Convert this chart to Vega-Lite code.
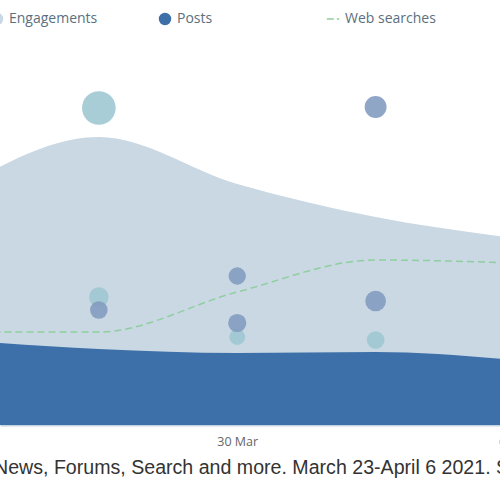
{
  "$schema": "https://vega.github.io/schema/vega-lite/v6.json",
  "width": 514,
  "height": 425,
  "autosize": "none",
  "padding": {"left": 0, "top": 0, "right": 0, "bottom": 75},
  "background": "white",
  "config": {"view": {"stroke": null}, "font": "Open Sans"},
  "title": {
    "text": "News, Forums, Search and more. March 23-April 6 2021. S",
    "orient": "bottom",
    "anchor": "start",
    "frame": "group",
    "dx": -6,
    "offset": 11,
    "font": "Liberation Sans",
    "fontSize": 19.6,
    "fontWeight": "normal",
    "color": "#333333"
  },
  "datasets": {
    "series": [
      {"date": "2021-03-23T00:00:00Z", "engagements": 2370, "posts": 850, "searches": 930},
      {"date": "2021-03-26T12:00:00Z", "engagements": 2880, "posts": 760, "searches": 930},
      {"date": "2021-03-30T00:00:00Z", "engagements": 2410, "posts": 720, "searches": 1330},
      {"date": "2021-04-02T12:00:00Z", "engagements": 2080, "posts": 730, "searches": 1650},
      {"date": "2021-04-06T00:00:00Z", "engagements": 1870, "posts": 650, "searches": 1620}
    ],
    "bubbles": [
      {"date": "2021-03-26T12:00:00Z", "series": "Engagements", "value": 3170, "size": 11.3},
      {"date": "2021-03-26T12:00:00Z", "series": "Engagements", "value": 1280, "size": 3.8},
      {"date": "2021-03-30T00:00:00Z", "series": "Engagements", "value": 880, "size": 2.5},
      {"date": "2021-04-02T12:00:00Z", "series": "Engagements", "value": 850, "size": 3.1},
      {"date": "2021-03-26T12:00:00Z", "series": "Posts", "value": 1150, "size": 3.1},
      {"date": "2021-03-30T00:00:00Z", "series": "Posts", "value": 1490, "size": 3.0},
      {"date": "2021-03-30T00:00:00Z", "series": "Posts", "value": 1020, "size": 3.3},
      {"date": "2021-04-02T12:00:00Z", "series": "Posts", "value": 3180, "size": 4.8},
      {"date": "2021-04-02T12:00:00Z", "series": "Posts", "value": 1240, "size": 4.3}
    ]
  },
  "encoding": {
    "x": {
      "field": "date",
      "type": "temporal",
      "scale": {
        "type": "utc",
        "nice": false,
        "domain": [
          {"year": 2021, "month": 3, "date": 24, "utc": true},
          {"year": 2021, "month": 4, "date": 6, "utc": true}
        ]
      },
      "axis": {
        "title": null,
        "values": [
          {"year": 2021, "month": 3, "date": 30, "utc": true},
          {"year": 2021, "month": 4, "date": 6, "utc": true}
        ],
        "labelExpr": "utcFormat(datum.value, '%-d %b')",
        "ticks": false,
        "grid": false,
        "domainColor": "#c3d4e4",
        "domainWidth": 2,
        "labelColor": "#666666",
        "labelFont": "Open Sans",
        "labelFontSize": 12.5,
        "labelPadding": 10,
        "labelFlush": false,
        "labelOverlap": false,
        "labelBound": false
      }
    }
  },
  "layer": [
    {
      "data": {"name": "series"},
      "mark": {"type": "area", "interpolate": "monotone"},
      "encoding": {
        "y": {"field": "engagements", "type": "quantitative", "scale": {"domain": [0, 4250], "nice": false}, "axis": null},
        "color": {
          "datum": "Engagements",
          "type": "nominal",
          "scale": {"domain": ["Engagements", "Posts", "Web searches"], "range": ["#c9d8e3", "#3d6fa9", "#8fcf9f"]},
          "legend": {
            "orient": "none",
            "legendX": -10,
            "legendY": 12,
            "direction": "horizontal",
            "columns": 3,
            "title": null,
            "symbolType": "circle",
            "symbolSize": 154,
            "symbolStrokeWidth": 0,
            "labelFont": "Open Sans",
            "labelFontSize": 14,
            "labelColor": "#5b6f80",
            "labelOffset": 5,
            "columnPadding": 55,
            "gridAlign": "all",
            "padding": 0,
            "encode": {
              "symbols": {
                "update": {
                  "shape": {"signal": "datum.value === 'Web searches' ? 'stroke' : 'circle'"},
                  "stroke": {"signal": "datum.value === 'Web searches' ? '#8fcf9f' : 'transparent'"},
                  "strokeWidth": {"signal": "datum.value === 'Web searches' ? 1.5 : 0"},
                  "strokeDash": {"signal": "datum.value === 'Web searches' ? [7, 3] : [1, 0]"}
                }
              }
            }
          }
        }
      }
    },
    {
      "data": {"name": "series"},
      "mark": {"type": "area", "interpolate": "monotone"},
      "encoding": {
        "y": {"field": "posts", "type": "quantitative"},
        "color": {"datum": "Posts", "type": "nominal"}
      }
    },
    {
      "data": {"name": "series"},
      "mark": {"type": "line", "interpolate": "monotone", "strokeDash": [7, 4], "strokeWidth": 1.5},
      "encoding": {
        "y": {"field": "searches", "type": "quantitative"},
        "color": {"datum": "Web searches", "type": "nominal"}
      }
    },
    {
      "data": {"name": "bubbles"},
      "mark": {"type": "circle", "opacity": 0.88},
      "encoding": {
        "y": {"field": "value", "type": "quantitative"},
        "size": {"field": "size", "type": "quantitative", "scale": {"domain": [0, 12], "range": [0, 1200]}, "legend": null},
        "fill": {"field": "series", "type": "nominal", "scale": {"domain": ["Engagements", "Posts"], "range": ["#9cc6d2", "#819abe"]}, "legend": null}
      }
    }
  ]
}
